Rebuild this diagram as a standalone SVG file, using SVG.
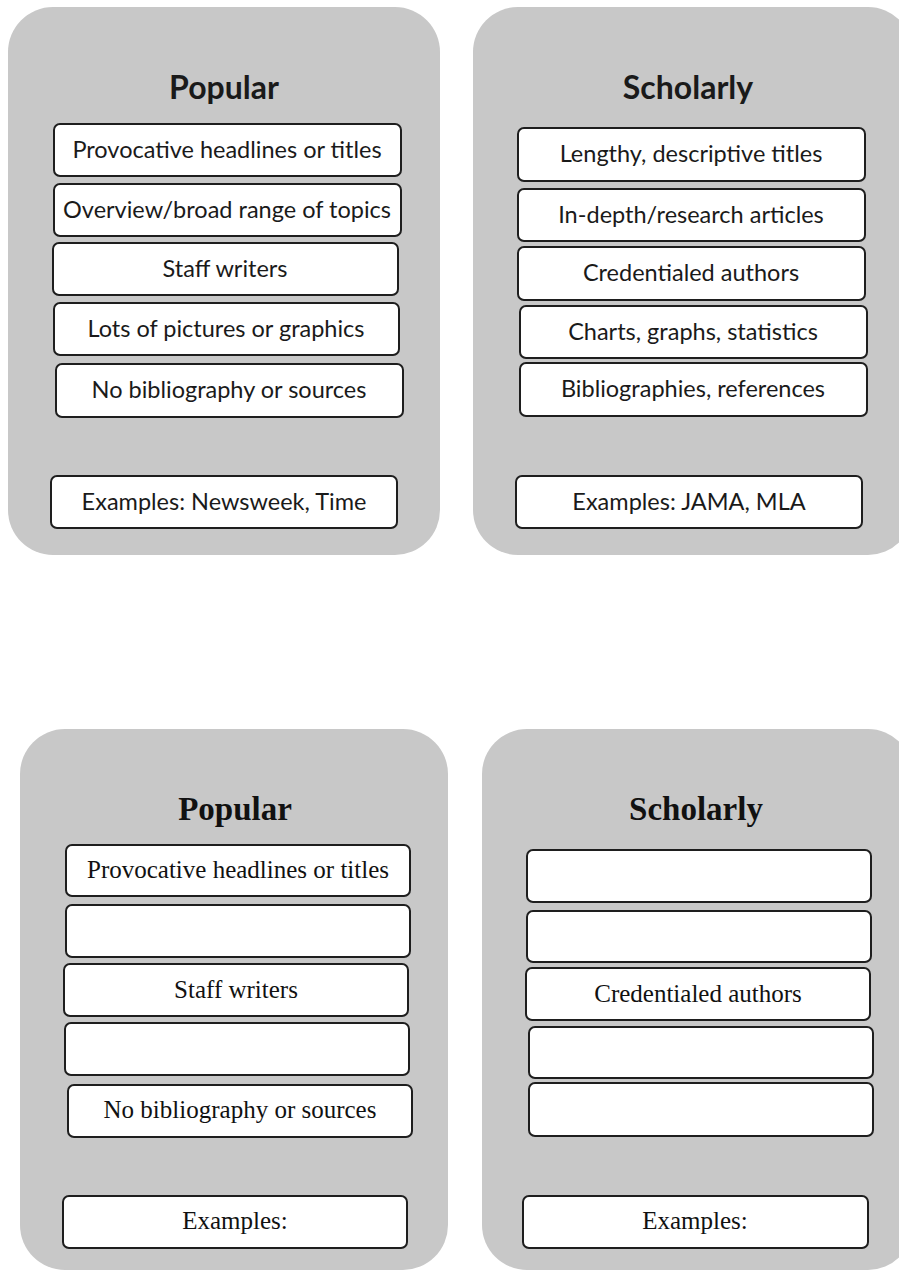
<svg xmlns="http://www.w3.org/2000/svg" width="899" height="1271" viewBox="0 0 899 1271">
  <style>
    .panel { fill: #c8c8c8; }
    .item { fill: #ffffff; stroke: #1e1e1e; stroke-width: 2; }
    .sans { font-family: Lato, "Open Sans", "Liberation Sans", sans-serif; fill: #1a1a1a; text-anchor: middle; }
    .serif { font-family: "Liberation Serif", "Times New Roman", serif; fill: #111111; text-anchor: middle; }
    .hs { font-size: 32px; font-weight: bold; }
    .ts { font-size: 23.5px; }
    .hr { font-size: 33px; font-weight: bold; }
    .tr { font-size: 25px; }
  </style>
  <rect width="899" height="1271" fill="#ffffff"/>

  <!-- Top left: Popular (filled-in) -->
  <g id="popular-top">
    <rect class="panel" x="8" y="7" width="432" height="548" rx="45"/>
    <text class="sans hs" x="224" y="99">Popular</text>
    <rect class="item" x="54" y="124" width="347" height="52" rx="6"/>
    <text class="sans ts" x="227" y="158">Provocative headlines or titles</text>
    <rect class="item" x="54" y="184" width="347" height="52" rx="6"/>
    <text class="sans ts" x="227" y="218">Overview/broad range of topics</text>
    <rect class="item" x="53" y="243" width="345" height="52" rx="6"/>
    <text class="sans ts" x="225" y="277">Staff writers</text>
    <rect class="item" x="54" y="303" width="345" height="52" rx="6"/>
    <text class="sans ts" x="226" y="337">Lots of pictures or graphics</text>
    <rect class="item" x="56" y="364" width="347" height="53" rx="6"/>
    <text class="sans ts" x="229" y="398">No bibliography or sources</text>
    <rect class="item" x="51" y="476" width="346" height="52" rx="6"/>
    <text class="sans ts" x="224" y="510">Examples: Newsweek, Time</text>
  </g>

  <!-- Top right: Scholarly (filled-in) -->
  <g id="scholarly-top">
    <rect class="panel" x="473" y="7" width="440" height="548" rx="45"/>
    <text class="sans hs" x="688" y="99">Scholarly</text>
    <rect class="item" x="518" y="128" width="347" height="53" rx="6"/>
    <text class="sans ts" x="691" y="162">Lengthy, descriptive titles</text>
    <rect class="item" x="518" y="189" width="347" height="52" rx="6"/>
    <text class="sans ts" x="691" y="223">In-depth/research articles</text>
    <rect class="item" x="518" y="247" width="347" height="53" rx="6"/>
    <text class="sans ts" x="691" y="281">Credentialed authors</text>
    <rect class="item" x="520" y="306" width="347" height="52" rx="6"/>
    <text class="sans ts" x="693" y="340">Charts, graphs, statistics</text>
    <rect class="item" x="520" y="363" width="347" height="53" rx="6"/>
    <text class="sans ts" x="693" y="397">Bibliographies, references</text>
    <rect class="item" x="516" y="476" width="346" height="52" rx="6"/>
    <text class="sans ts" x="689" y="510">Examples: JAMA, MLA</text>
  </g>

  <!-- Bottom left: Popular (worksheet) -->
  <g id="popular-bottom">
    <rect class="panel" x="20" y="729" width="428" height="541" rx="45"/>
    <text class="serif hr" x="235" y="820">Popular</text>
    <rect class="item" x="66" y="845" width="344" height="51" rx="6"/>
    <text class="serif tr" x="238" y="878">Provocative headlines or titles</text>
    <rect class="item" x="66" y="905" width="344" height="52" rx="6"/>
    <rect class="item" x="64" y="964" width="344" height="52" rx="6"/>
    <text class="serif tr" x="236" y="998">Staff writers</text>
    <rect class="item" x="65" y="1023" width="344" height="52" rx="6"/>
    <rect class="item" x="68" y="1085" width="344" height="52" rx="6"/>
    <text class="serif tr" x="240" y="1118">No bibliography or sources</text>
    <rect class="item" x="63" y="1196" width="344" height="52" rx="6"/>
    <text class="serif tr" x="235" y="1229">Examples:</text>
  </g>

  <!-- Bottom right: Scholarly (worksheet) -->
  <g id="scholarly-bottom">
    <rect class="panel" x="482" y="729" width="431" height="541" rx="45"/>
    <text class="serif hr" x="696" y="820">Scholarly</text>
    <rect class="item" x="527" y="850" width="344" height="52" rx="6"/>
    <rect class="item" x="527" y="911" width="344" height="51" rx="6"/>
    <rect class="item" x="526" y="968" width="344" height="52" rx="6"/>
    <text class="serif tr" x="698" y="1002">Credentialed authors</text>
    <rect class="item" x="529" y="1027" width="344" height="51" rx="6"/>
    <rect class="item" x="529" y="1083" width="344" height="53" rx="6"/>
    <rect class="item" x="523" y="1196" width="345" height="52" rx="6"/>
    <text class="serif tr" x="695" y="1229">Examples:</text>
  </g>

  <!-- No connectors in this chart -->
  <g id="connectors"/>
</svg>
